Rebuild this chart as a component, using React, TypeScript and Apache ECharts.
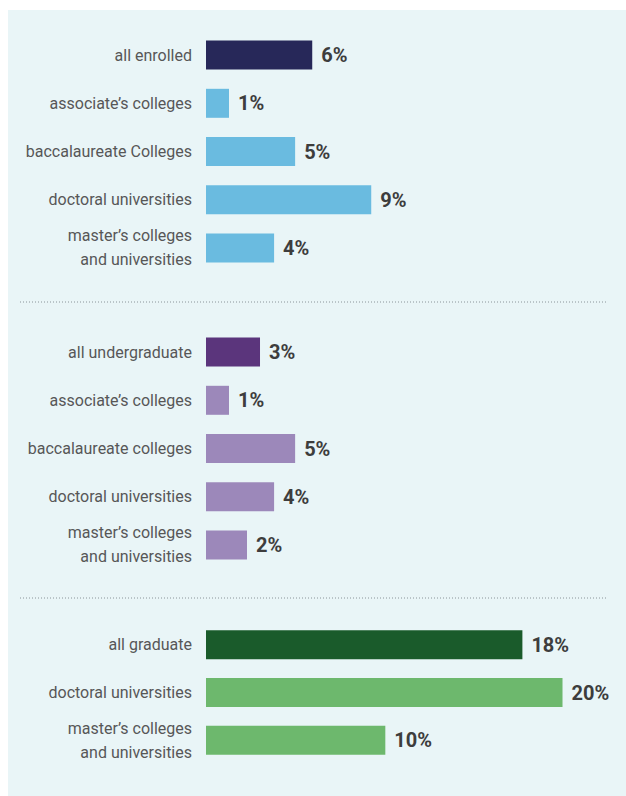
import React, { useEffect, useRef } from "react";
import * as echarts from "echarts";

const enrolledCats = [
  "all enrolled",
  "associate’s colleges",
  "baccalaureate Colleges",
  "doctoral universities",
  "master’s colleges\nand universities",
];
const enrolledVals = [5.96, 1.29, 5.0, 9.27, 3.82];

const undergradCats = [
  "all undergraduate",
  "associate’s colleges",
  "baccalaureate colleges",
  "doctoral universities",
  "master’s colleges\nand universities",
];
const undergradVals = [3.03, 1.29, 5.0, 3.82, 2.3];

const gradCats = [
  "all graduate",
  "doctoral universities",
  "master’s colleges\nand universities",
];
const gradVals = [17.75, 20.06, 10.06];

const enrolledColors = ["#272859", "#6abbe0", "#6abbe0", "#6abbe0", "#6abbe0"];
const undergradColors = ["#5b357c", "#9c88ba", "#9c88ba", "#9c88ba", "#9c88ba"];
const gradColors = ["#1a5b2b", "#6db86d", "#6db86d"];

const FONT = "Roboto, 'Noto Sans', sans-serif";

export default function App() {
  const ref = useRef<HTMLDivElement>(null);
  useEffect(() => {
    document.body.style.margin = "0";
    const chart = echarts.init(ref.current!, undefined, { renderer: "svg" });
    const grids = [
      { top: 31, height: 241 },
      { top: 328, height: 241 },
      { top: 621, height: 143 },
    ];
    const cats = [enrolledCats, undergradCats, gradCats];
    const vals = [enrolledVals, undergradVals, gradVals];
    const cols = [enrolledColors, undergradColors, gradColors];
    chart.setOption({
      animation: false,
      graphic: [
        {
          type: "rect",
          shape: { x: 8, y: 10, width: 618, height: 786 },
          style: { fill: "#e9f5f7" },
          z: -10,
        },
        {
          type: "line",
          shape: { x1: 20, y1: 302, x2: 608, y2: 302 },
          style: { stroke: "#8a9499", lineWidth: 1, lineDash: [1, 2] },
        },
        {
          type: "line",
          shape: { x1: 20, y1: 598, x2: 608, y2: 598 },
          style: { stroke: "#8a9499", lineWidth: 1, lineDash: [1, 2] },
        },
      ],
      grid: grids.map((g) => ({ left: 206, width: 356.5, top: g.top, height: g.height })),
      xAxis: grids.map((_, i) => ({
        type: "value",
        gridIndex: i,
        min: 0,
        max: 20,
        show: false,
      })),
      yAxis: grids.map((_, i) => ({
        type: "category",
        gridIndex: i,
        inverse: true,
        data: cats[i],
        axisLine: { show: false },
        axisTick: { show: false },
        splitLine: { show: false },
        axisLabel: {
          margin: 14,
          fontFamily: FONT,
          fontSize: 16,
          color: "#575757",
          lineHeight: 24,
          align: "right",
        },
      })),
      series: grids.map((_, i) => ({
        type: "bar",
        xAxisIndex: i,
        yAxisIndex: i,
        barWidth: 29,
        data: vals[i].map((v, j) => ({ value: v, itemStyle: { color: cols[i][j] } })),
        label: {
          show: true,
          position: "right",
          distance: 9,
          fontFamily: FONT,
          fontSize: 20,
          fontWeight: "bold",
          color: "#3d3d3d",
          formatter: (p: any) => Math.round(p.value) + "%",
        },
      })),
    });
    return () => chart.dispose();
  }, []);
  return <div ref={ref} style={{ width: 626, height: 796 }} />;
}
